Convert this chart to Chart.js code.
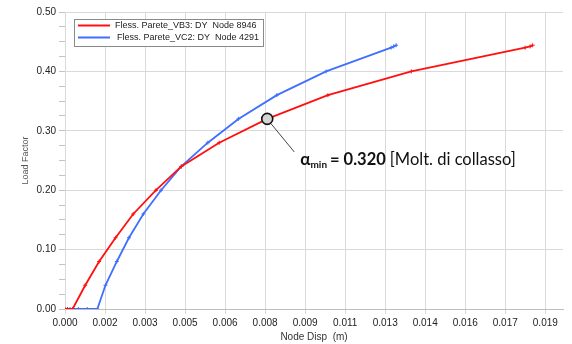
<!DOCTYPE html>
<html>
<head>
<meta charset="UTF-8">
<script src="https://cdn.jsdelivr.net/npm/chart.js"></script>
<style>
  body { margin: 0; background: #fff; }
  #box { width: 572px; height: 344px; }
</style>
</head>
<body>
<div id="box"><canvas id="myChart" width="572" height="344"></canvas></div>
<script>
// series: Fless. Parete_VB3 (red)
var redName = 'Fless. Parete_VB3: DY  Node 8946';
var redX = [0.0000, 0.0001, 0.0003, 0.0008, 0.00135, 0.0020, 0.0027, 0.0036, 0.0046, 0.0061, 0.0080, 0.0104, 0.0137, 0.0182, 0.0184, 0.0185];
var redY = [0.000, 0.000, 0.000, 0.040, 0.080, 0.120, 0.160, 0.200, 0.240, 0.280, 0.320, 0.360, 0.400, 0.440, 0.442, 0.444];

// series: Fless. Parete_VC2 (blue)
var blueName = 'Fless. Parete_VC2: DY  Node 4291';
var blueX = [0.0002, 0.00053, 0.00088, 0.00128, 0.0016, 0.00205, 0.00253, 0.0031, 0.0038, 0.0046, 0.00565, 0.00686, 0.00838, 0.01033, 0.0129, 0.0130, 0.0131];
var blueY = [0.000, 0.000, 0.000, 0.000, 0.040, 0.080, 0.120, 0.160, 0.200, 0.240, 0.280, 0.320, 0.360, 0.400, 0.440, 0.442, 0.444];

// x axis ticks (as printed on the original)
var xTickValues = [0, 0.0015833, 0.0031667, 0.00475, 0.0063333, 0.0079167, 0.0095, 0.0110833, 0.0126667, 0.01425, 0.0158333, 0.0174167, 0.019];
var xTickLabels = ['0.000', '0.002', '0.003', '0.005', '0.006', '0.008', '0.009', '0.011', '0.013', '0.014', '0.016', '0.017', '0.019'];

// collapse multiplier marker
var alphaX = 0.0080;
var alphaY = 0.320;

function toPoints(xs, ys) {
  var pts = [];
  for (var i = 0; i < xs.length; i++) pts.push({ x: xs[i], y: ys[i] });
  return pts;
}

var tickFont = { family: 'Liberation Sans', size: 10 };

// legend box drawn inside the plot
var boxLegend = {
  id: 'boxLegend',
  afterDatasetsDraw: function (chart) {
    var ctx = chart.ctx;
    var a = chart.chartArea;
    var x0 = a.left + 9, y0 = a.top + 7, w = 189, h = 27;
    ctx.save();
    ctx.fillStyle = '#fff';
    ctx.fillRect(x0, y0, w, h);
    ctx.strokeStyle = '#8a8a8a';
    ctx.lineWidth = 1;
    ctx.strokeRect(x0 + 0.5, y0 + 0.5, w, h);
    ctx.font = '9px Liberation Sans';
    ctx.textBaseline = 'middle';
    chart.data.datasets.forEach(function (ds, i) {
      var yy = y0 + 6.5 + i * 12;
      ctx.strokeStyle = ds.borderColor;
      ctx.lineWidth = 2;
      ctx.beginPath();
      ctx.moveTo(x0 + 4, yy);
      ctx.lineTo(x0 + 36, yy);
      ctx.stroke();
      ctx.fillStyle = '#222';
      ctx.fillText(ds.label, x0 + 41 + i * 2, yy);
    });
    ctx.restore();
  }
};

// alpha_min annotation
var alphaNote = {
  id: 'alphaNote',
  afterDatasetsDraw: function (chart) {
    var ctx = chart.ctx;
    var px = chart.scales.x.getPixelForValue(alphaX);
    var py = chart.scales.y.getPixelForValue(alphaY);
    ctx.save();
    ctx.strokeStyle = '#444';
    ctx.lineWidth = 1;
    ctx.beginPath();
    ctx.moveTo(px + 4, py + 5);
    ctx.lineTo(px + 27, py + 33);
    ctx.stroke();
    ctx.beginPath();
    ctx.arc(px, py, 5.5, 0, Math.PI * 2);
    ctx.fillStyle = '#d4d4d4';
    ctx.fill();
    ctx.lineWidth = 1.6;
    ctx.strokeStyle = '#111';
    ctx.stroke();

    var tx = px + 33, ty = py + 46;
    ctx.fillStyle = '#111';
    ctx.textBaseline = 'alphabetic';
    ctx.font = 'bold 17px Lato, Liberation Sans';
    ctx.fillText('\u03b1', tx, ty);
    tx += ctx.measureText('\u03b1').width;
    ctx.font = 'bold 10px Lato, Liberation Sans';
    ctx.fillText('min', tx, ty + 3);
    tx += ctx.measureText('min').width + 3;
    ctx.font = 'bold 16.5px Lato, Liberation Sans';
    var s = '= ' + alphaY.toFixed(3);
    ctx.fillText(s, tx, ty);
    tx += ctx.measureText(s).width + 4;
    ctx.font = '16.5px Lato, Liberation Sans';
    ctx.fillText('[Molt. di collasso]', tx, ty);
    ctx.restore();
  }
};

new Chart(document.getElementById('myChart'), {
  type: 'scatter',
  data: {
    datasets: [{
      label: redName,
      data: toPoints(redX, redY),
      showLine: true,
      borderColor: '#ff1010',
      backgroundColor: '#ff1010',
      borderWidth: 1.8,
      pointStyle: 'cross',
      pointRadius: 2,
      pointBorderWidth: 1,
      tension: 0
    }, {
      label: blueName,
      data: toPoints(blueX, blueY),
      showLine: true,
      borderColor: '#3f6fff',
      backgroundColor: '#3f6fff',
      borderWidth: 1.8,
      pointStyle: 'cross',
      pointRadius: 2,
      pointBorderWidth: 1,
      tension: 0
    }]
  },
  options: {
    responsive: false,
    animation: false,
    devicePixelRatio: 1,
    layout: { padding: { top: 12, right: 9, left: 0, bottom: 0 } },
    plugins: {
      legend: { display: false },
      tooltip: { enabled: false }
    },
    scales: {
      x: {
        type: 'linear',
        min: 0,
        max: 0.0197,
        afterBuildTicks: function (scale) {
          scale.ticks = xTickValues.map(function (v) { return { value: v }; });
        },
        afterFit: function (scale) { scale.height = 35; },
        ticks: {
          autoSkip: false,
          maxRotation: 0,
          padding: 3,
          color: '#222',
          font: tickFont,
          callback: function (v, i) { return xTickLabels[i]; }
        },
        grid: { color: '#d9d9d9', tickLength: 5, tickColor: '#d9d9d9' },
        border: { color: '#bdbdbd' },
        title: {
          display: true,
          text: 'Node Disp  (m)',
          color: '#333',
          font: { family: 'Liberation Sans', size: 10 },
          padding: { top: 0, bottom: 1 }
        }
      },
      y: {
        min: 0,
        max: 0.5,
        afterFit: function (scale) { scale.width = 65; },
        ticks: {
          stepSize: 0.025,
          autoSkip: false,
          padding: 3,
          color: '#222',
          font: tickFont,
          callback: function (v) {
            return Math.round(v * 1000) % 100 === 0 ? v.toFixed(2) : '';
          }
        },
        grid: {
          color: function (c) {
            return Math.round(c.tick.value * 1000) % 100 === 0 ? '#d9d9d9' : 'rgba(0,0,0,0)';
          },
          tickLength: 6,
          tickColor: '#c4c4c4'
        },
        border: { color: '#d9d9d9' },
        title: {
          display: true,
          text: 'Load Factor',
          color: '#555',
          font: { family: 'Liberation Sans', size: 9 },
          padding: { top: 20, bottom: 0 }
        }
      }
    }
  },
  plugins: [boxLegend, alphaNote]
});
</script>
</body>
</html>
